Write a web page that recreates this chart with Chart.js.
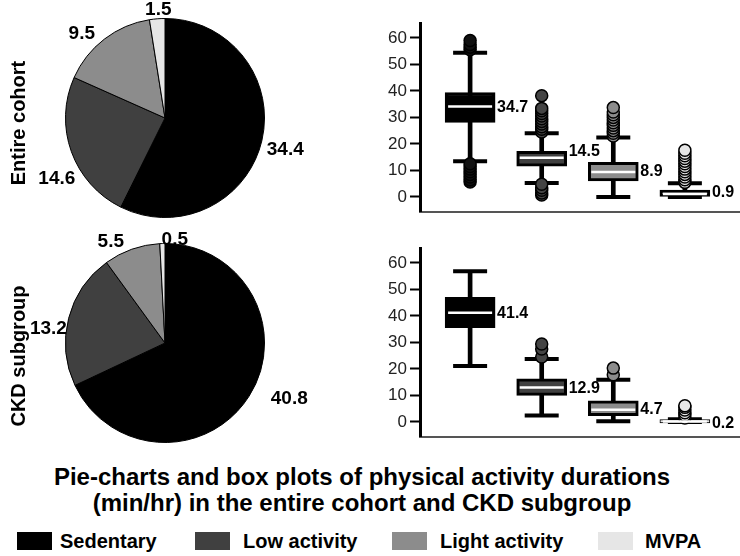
<!DOCTYPE html>
<html>
<head>
<meta charset="utf-8">
<script src="https://cdn.jsdelivr.net/npm/chart.js@4.4.1/dist/chart.umd.min.js"></script>
<style>
  body { margin: 0; width: 740px; height: 556px; position: relative; overflow: hidden; background: #fff;
         font-family: "Liberation Sans", Arial, sans-serif; color: #000; }
  canvas { position: absolute; }
  .side { position: absolute; left: 18px; font-weight: bold; font-size: 20px; white-space: nowrap;
          transform: translate(-50%, -50%) rotate(-90deg); }
  #title { position: absolute; left: 0; width: 724px; top: 464px; text-align: center;
           font-weight: bold; font-size: 24px; line-height: 26px; }
  .sw { position: absolute; top: 532px; width: 35px; height: 18px; }
  .lt { position: absolute; top: 529px; font-weight: bold; font-size: 20px; line-height: 24px; white-space: nowrap; }
</style>
</head>
<body>
<canvas id="pie1" width="330" height="225" style="left:0;top:0"></canvas>
<canvas id="pie2" width="330" height="225" style="left:0;top:225px"></canvas>
<canvas id="box1" width="400" height="225" style="left:340px;top:0"></canvas>
<canvas id="box2" width="400" height="225" style="left:340px;top:225px"></canvas>
<div class="side" style="top:123px">Entire cohort</div>
<div class="side" style="top:356px">CKD subgroup</div>
<div id="title">Pie-charts and box plots of physical activity durations<br>(min/hr) in the entire cohort and CKD subgroup</div>
<div id="legend"></div>
<script>
// activity categories and their shades
const categories = ['Sedentary', 'Low activity', 'Light activity', 'MVPA'];
const colors = ['#000000', '#404040', '#8c8c8c', '#e6e6e6'];

// mean minutes per hour (pie charts)
const pieEntire = [34.4, 14.6, 9.5, 1.5];
const pieCkd = [40.8, 13.2, 5.5, 0.5];

// box plots, entire cohort
const entireMin = [13.5, 5.3, 0, 0];
const entireQ1 = [28.1, 11.6, 6, 0.2];
const entireMedian = [34.1, 14.8, 9.4, 1.1];
const entireQ3 = [39.4, 17.2, 13.1, 2.6];
const entireMax = [54.4, 24, 22.4, 5.2];
const entireLabels = ['34.7', '14.5', '8.9', '0.9'];
const entireOutliers = [
    [5.6, 6.5, 7.5, 8.5, 9.5, 10.5, 11.5, 12.5, 55.5, 56.5, 57.5, 59],
    [0.7, 1.5, 2.5, 3.5, 4.8, 24.5, 25.5, 26.5, 27.5, 28.5, 29.5, 30.5, 31.5, 32.5, 33.4, 38.2],
    [23, 24, 25, 26, 27, 28, 29, 30, 31, 32, 33.7],
    [5.5, 6.5, 7.5, 8.5, 9.5, 10.5, 11.5, 12.5, 13.5, 14.5, 15.5, 16.5, 17.6]
];

// box plots, CKD subgroup
const ckdMin = [21.1, 2.4, 0.3, 0];
const ckdQ1 = [35.6, 10, 2.4, -0.4];
const ckdMedian = [41.2, 13, 4.6, 0.2];
const ckdQ3 = [47, 16.3, 8, 0.9];
const ckdMax = [56.8, 23.7, 15.9, 1];
const ckdLabels = ['41.4', '12.9', '4.7', '0.2'];
const ckdOutliers = [
    [],
    [24.5, 27.5, 29.4],
    [17.8, 20.3],
    [1.5, 2.5, 3.5, 4.5, 5.5, 6.1]
];

const yTicks = [0, 10, 20, 30, 40, 50, 60];
const outlierFill = ['#111111', '#444444', '#8c8c8c', '#e6e6e6'];

Chart.defaults.font.family = '"Liberation Sans", Arial, sans-serif';

// labels around the pie, nudged like in the original figure
const pieLabels = {
    id: 'pieLabels',
    afterDatasetsDraw(chart, args, opts) {
        const ctx = chart.ctx;
        const meta = chart.getDatasetMeta(0);
        const values = chart.data.datasets[0].data;
        ctx.save();
        ctx.font = 'bold 19px "Liberation Sans", Arial, sans-serif';
        ctx.fillStyle = '#000';
        ctx.textAlign = 'center';
        ctx.textBaseline = 'middle';
        meta.data.forEach(function (arc, i) {
            const p = arc.getProps(['x', 'y', 'startAngle', 'endAngle', 'outerRadius'], true);
            const mid = (p.startAngle + p.endAngle) / 2;
            const r = p.outerRadius + 24;
            const n = opts.nudge[i];
            ctx.fillText(values[i].toFixed(1), p.x + Math.cos(mid) * r + n[0], p.y + Math.sin(mid) * r + n[1]);
        });
        ctx.restore();
    }
};

function makePie(id, values, nudge) {
    new Chart(document.getElementById(id), {
        type: 'pie',
        data: {
            labels: categories,
            datasets: [{
                data: values,
                backgroundColor: colors,
                borderColor: '#000',
                borderWidth: 1
            }]
        },
        options: {
            responsive: false,
            animation: false,
            layout: { padding: { left: 65, right: 65, top: 18, bottom: 7 } },
            plugins: {
                legend: { display: false },
                tooltip: { enabled: false },
                pieLabels: { nudge: nudge }
            }
        },
        plugins: [pieLabels]
    });
}

// whisker caps, median lines and median labels
const boxDecor = {
    id: 'boxDecor',
    beforeDatasetsDraw(chart, args, opts) {
        const ctx = chart.ctx;
        const x = chart.scales.x, y = chart.scales.y;
        ctx.save();
        ctx.strokeStyle = '#000';
        ctx.lineWidth = 4;
        ctx.lineCap = 'butt';
        categories.forEach(function (c, i) {
            const cx = x.getPixelForValue(i + 1);
            [opts.min[i], opts.max[i]].forEach(function (v) {
                const py = y.getPixelForValue(v);
                ctx.beginPath();
                ctx.moveTo(cx - 17, py);
                ctx.lineTo(cx + 17, py);
                ctx.stroke();
            });
        });
        ctx.restore();
    },
    afterDatasetsDraw(chart, args, opts) {
        const ctx = chart.ctx;
        const x = chart.scales.x, y = chart.scales.y;
        ctx.save();
        categories.forEach(function (c, i) {
            const cx = x.getPixelForValue(i + 1);
            const py = y.getPixelForValue(opts.median[i]);
            ctx.strokeStyle = '#fff';
            ctx.lineWidth = 2.5;
            ctx.beginPath();
            ctx.moveTo(cx - 22, py);
            ctx.lineTo(cx + 22, py);
            ctx.stroke();
            ctx.fillStyle = '#000';
            ctx.font = 'bold 16px "Liberation Sans", Arial, sans-serif';
            ctx.textAlign = 'left';
            ctx.textBaseline = 'middle';
            ctx.fillText(opts.labels[i], cx + 27, py + opts.shift[i]);
        });
        ctx.restore();
    }
};

function makeBox(id, mins, q1s, meds, q3s, maxs, labels, outliers, shift, boxBorder) {
    const points = [];
    const pointColors = [];
    outliers.forEach(function (list, i) {
        list.slice().sort(function (a, b) { return a - b; }).forEach(function (v) {
            points.push({ x: i + 1, y: v });
            pointColors.push(outlierFill[i]);
        });
    });
    new Chart(document.getElementById(id), {
        type: 'bar',
        data: {
            datasets: [
                {
                    label: 'whisker',
                    data: categories.map(function (c, i) { return { x: i + 1, y: [mins[i], maxs[i]] }; }),
                    backgroundColor: '#000',
                    barThickness: 4,
                    grouped: false,
                    order: 3
                },
                {
                    label: 'box',
                    data: categories.map(function (c, i) { return { x: i + 1, y: [q1s[i], q3s[i]] }; }),
                    backgroundColor: colors,
                    borderColor: '#000',
                    borderWidth: boxBorder,
                    borderSkipped: false,
                    barThickness: 50,
                    grouped: false,
                    order: 2
                },
                {
                    type: 'scatter',
                    label: 'outliers',
                    data: points,
                    pointBackgroundColor: pointColors,
                    pointBorderColor: '#000',
                    pointBorderWidth: 1.5,
                    pointRadius: 6,
                    order: 1
                }
            ]
        },
        options: {
            responsive: false,
            animation: false,
            layout: { autoPadding: false, padding: { top: 23, right: 0, left: 0, bottom: 0 } },
            scales: {
                x: {
                    type: 'linear',
                    offset: false,
                    min: 0.3,
                    max: 4.77,
                    grid: { display: false, offset: false },
                    ticks: { display: false },
                    border: { display: true, color: '#555', width: 2 },
                    afterFit: function (s) { s.height = 12; }
                },
                y: {
                    min: -5.6,
                    max: 65.6,
                    afterBuildTicks: function (s) { s.ticks = yTicks.map(function (v) { return { value: v }; }); },
                    grid: { display: true, drawOnChartArea: false, drawTicks: true, tickLength: 10, tickWidth: 2, tickColor: '#000' },
                    border: { display: true, color: '#000', width: 3 },
                    ticks: { color: '#222', padding: 3, font: { size: 17 } },
                    afterFit: function (s) { s.width = 80; }
                }
            },
            plugins: {
                legend: { display: false },
                tooltip: { enabled: false },
                boxDecor: { min: mins, max: maxs, median: meds, labels: labels, shift: shift }
            }
        },
        plugins: [boxDecor]
    });
}

makePie('pie1', pieEntire, [[0, 4], [8, 19], [-8, 14], [3, 15]]);
makePie('pie2', pieCkd, [[20, -10], [3, 16], [-13, 15], [13, 20]]);
makeBox('box1', entireMin, entireQ1, entireMedian, entireQ3, entireMax, entireLabels, entireOutliers,
    [1, -6, 0, -1], [3, 3, 3, 3]);
makeBox('box2', ckdMin, ckdQ1, ckdMedian, ckdQ3, ckdMax, ckdLabels, ckdOutliers,
    [1, 1, 0, 2], [3, 3, 3, 1]);

// legend
const legend = document.getElementById('legend');
const swatchX = [17, 195, 392, 598];
const textX = [60, 243, 440, 645];
categories.forEach(function (c, i) {
    const sw = document.createElement('div');
    sw.className = 'sw';
    sw.style.left = swatchX[i] + 'px';
    sw.style.background = colors[i];
    legend.appendChild(sw);
    const t = document.createElement('div');
    t.className = 'lt';
    t.style.left = textX[i] + 'px';
    t.textContent = c;
    legend.appendChild(t);
});
</script>
</body>
</html>
